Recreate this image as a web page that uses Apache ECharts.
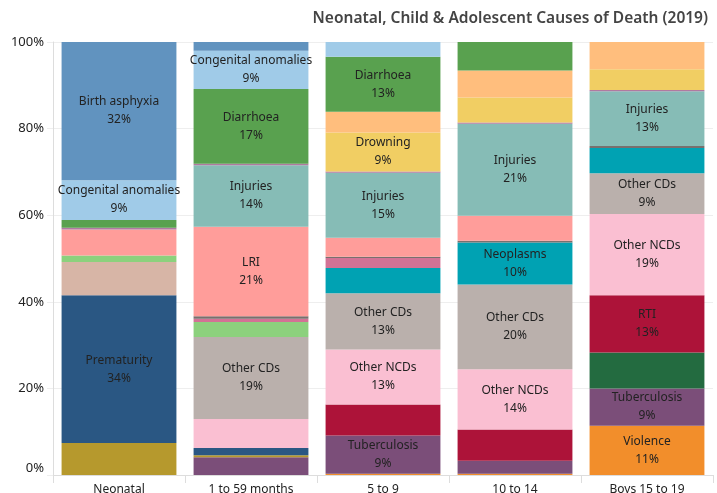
<!DOCTYPE html>
<html>
<head>
<meta charset="utf-8">
<script src="https://cdn.jsdelivr.net/npm/echarts@6/dist/echarts.min.js"></script>
<style>
  html, body { margin: 0; padding: 0; background: #fff; }
  #chart { width: 717px; height: 493px; }
</style>
</head>
<body>
<div id="chart"></div>
<script>
// age groups (x axis)
const categories = ['Neonatal', '1 to 59 months', '5 to 9', '10 to 14', 'Boys 15 to 19']
const yTicks = [0, 20, 40, 60, 80, 100]

// causes, stacked bottom -> top, share of deaths (%)
const causes = ['Violence', 'Tuberculosis', 'Self-harm', 'RTI', 'Sepsis', 'Prematurity', 'Other neonatal',
  'Other NCDs', 'Other CDs', 'Neoplasms', 'Malaria', 'Meningitis', 'Measles', 'LRI', 'Injuries',
  'HIV/AIDS', 'Drowning', 'Conflict', 'Diarrhoea', 'Congenital anomalies', 'Birth asphyxia']

const violence      = [0, 0, 0.3, 0.3, 11.4]
const tuberculosis  = [0, 4.1, 8.8, 3.0, 8.6]
const selfHarm      = [0, 0, 0, 0, 8.3]
const rti           = [0, 0, 7.2, 7.2, 13.2]
const sepsis        = [7.4, 0.45, 0, 0, 0]
const prematurity   = [34.1, 1.7, 0, 0, 0]
const otherNeonatal = [7.7, 0, 0, 0, 0]
const otherNCDs     = [0, 6.7, 12.7, 13.9, 18.8]
const otherCDs      = [0, 18.9, 13.0, 19.6, 9.4]
const neoplasms     = [0, 0, 5.8, 9.7, 5.8]
const malaria       = [1.5, 3.5, 0, 0, 0]
const meningitis    = [0, 0.76, 2.3, 0, 0]
const measles       = [0, 0.55, 0.3, 0.4, 0.5]
const lri           = [6.0, 20.7, 4.4, 5.8, 0]
const injuries      = [0, 14.2, 15.0, 21.2, 12.6]
const hiv           = [0.4, 0.3, 0.3, 0.3, 0.3]
const drowning      = [0, 0, 9.0, 5.8, 4.8]
const conflict      = [0, 0, 4.8, 6.2, 6.4]
const diarrhoea     = [1.8, 17.3, 12.7, 6.6, 0]
const congenital    = [9.2, 8.8, 3.5, 0, 0]
const birthAsphyxia = [32.0, 2.2, 0, 0, 0]

const values = [violence, tuberculosis, selfHarm, rti, sepsis, prematurity, otherNeonatal,
  otherNCDs, otherCDs, neoplasms, malaria, meningitis, measles, lri, injuries,
  hiv, drowning, conflict, diarrhoea, congenital, birthAsphyxia]

const colors = ['#F28E2B', '#7B4E79', '#236B40', '#AD1339', '#B6992D', '#2A5783', '#D7B5A6',
  '#FABFD2', '#BAB0AC', '#00A2B3', '#8CD17D', '#D37295', '#79706E', '#FF9D9A', '#86BCB6',
  '#B07AA1', '#F1CE63', '#FFBE7D', '#59A14F', '#A0CBE8', '#6193BF']

const FONT = 'Noto Sans'

const chart = echarts.init(document.getElementById('chart'))

const series = causes.map((name, i) => ({
  name,
  type: 'bar',
  stack: 'total',
  barWidth: '87%',
  itemStyle: { color: colors[i] },
  label: {
    show: true,
    position: 'inside',
    color: '#222',
    fontFamily: FONT,
    fontSize: 12,
    lineHeight: 18,
    // Tableau only shows labels on big enough segments
    formatter: p => p.value >= 8.5 ? name + '\n' + Math.round(p.value) + '%' : ''
  },
  data: values[i]
}))

chart.setOption({
  animation: false,
  title: {
    text: 'Neonatal, Child & Adolescent Causes of Death (2019)',
    right: 4,
    top: 6,
    textStyle: { fontFamily: FONT, fontSize: 15.5, fontWeight: 600, color: '#444' }
  },
  grid: { left: 53, right: 4, top: 42, bottom: 18, outerBoundsMode: 'none', containLabel: false },
  xAxis: {
    type: 'category',
    data: categories,
    axisLine: { lineStyle: { color: '#ddd' } },
    axisTick: { show: true, length: 8, lineStyle: { color: '#ddd' } },
    axisLabel: { color: '#222', fontFamily: FONT, fontSize: 12, margin: 9 }
  },
  yAxis: {
    type: 'value',
    min: yTicks[0],
    max: yTicks[yTicks.length - 1],
    interval: 20,
    axisLine: { show: true, lineStyle: { color: '#ddd' } },
    axisTick: { show: true, length: 6, lineStyle: { color: '#eee' } },
    splitLine: { lineStyle: { color: '#eee' } },
    axisLabel: {
      color: '#222',
      fontFamily: FONT,
      fontSize: 13,
      margin: 9,
      formatter: v => v === 0 ? '{z|0%}' : v + '%',
      rich: { z: { fontFamily: FONT, fontSize: 13, color: '#222', padding: [0, 0, 14, 0] } }
    }
  },
  series
})
</script>
</body>
</html>
